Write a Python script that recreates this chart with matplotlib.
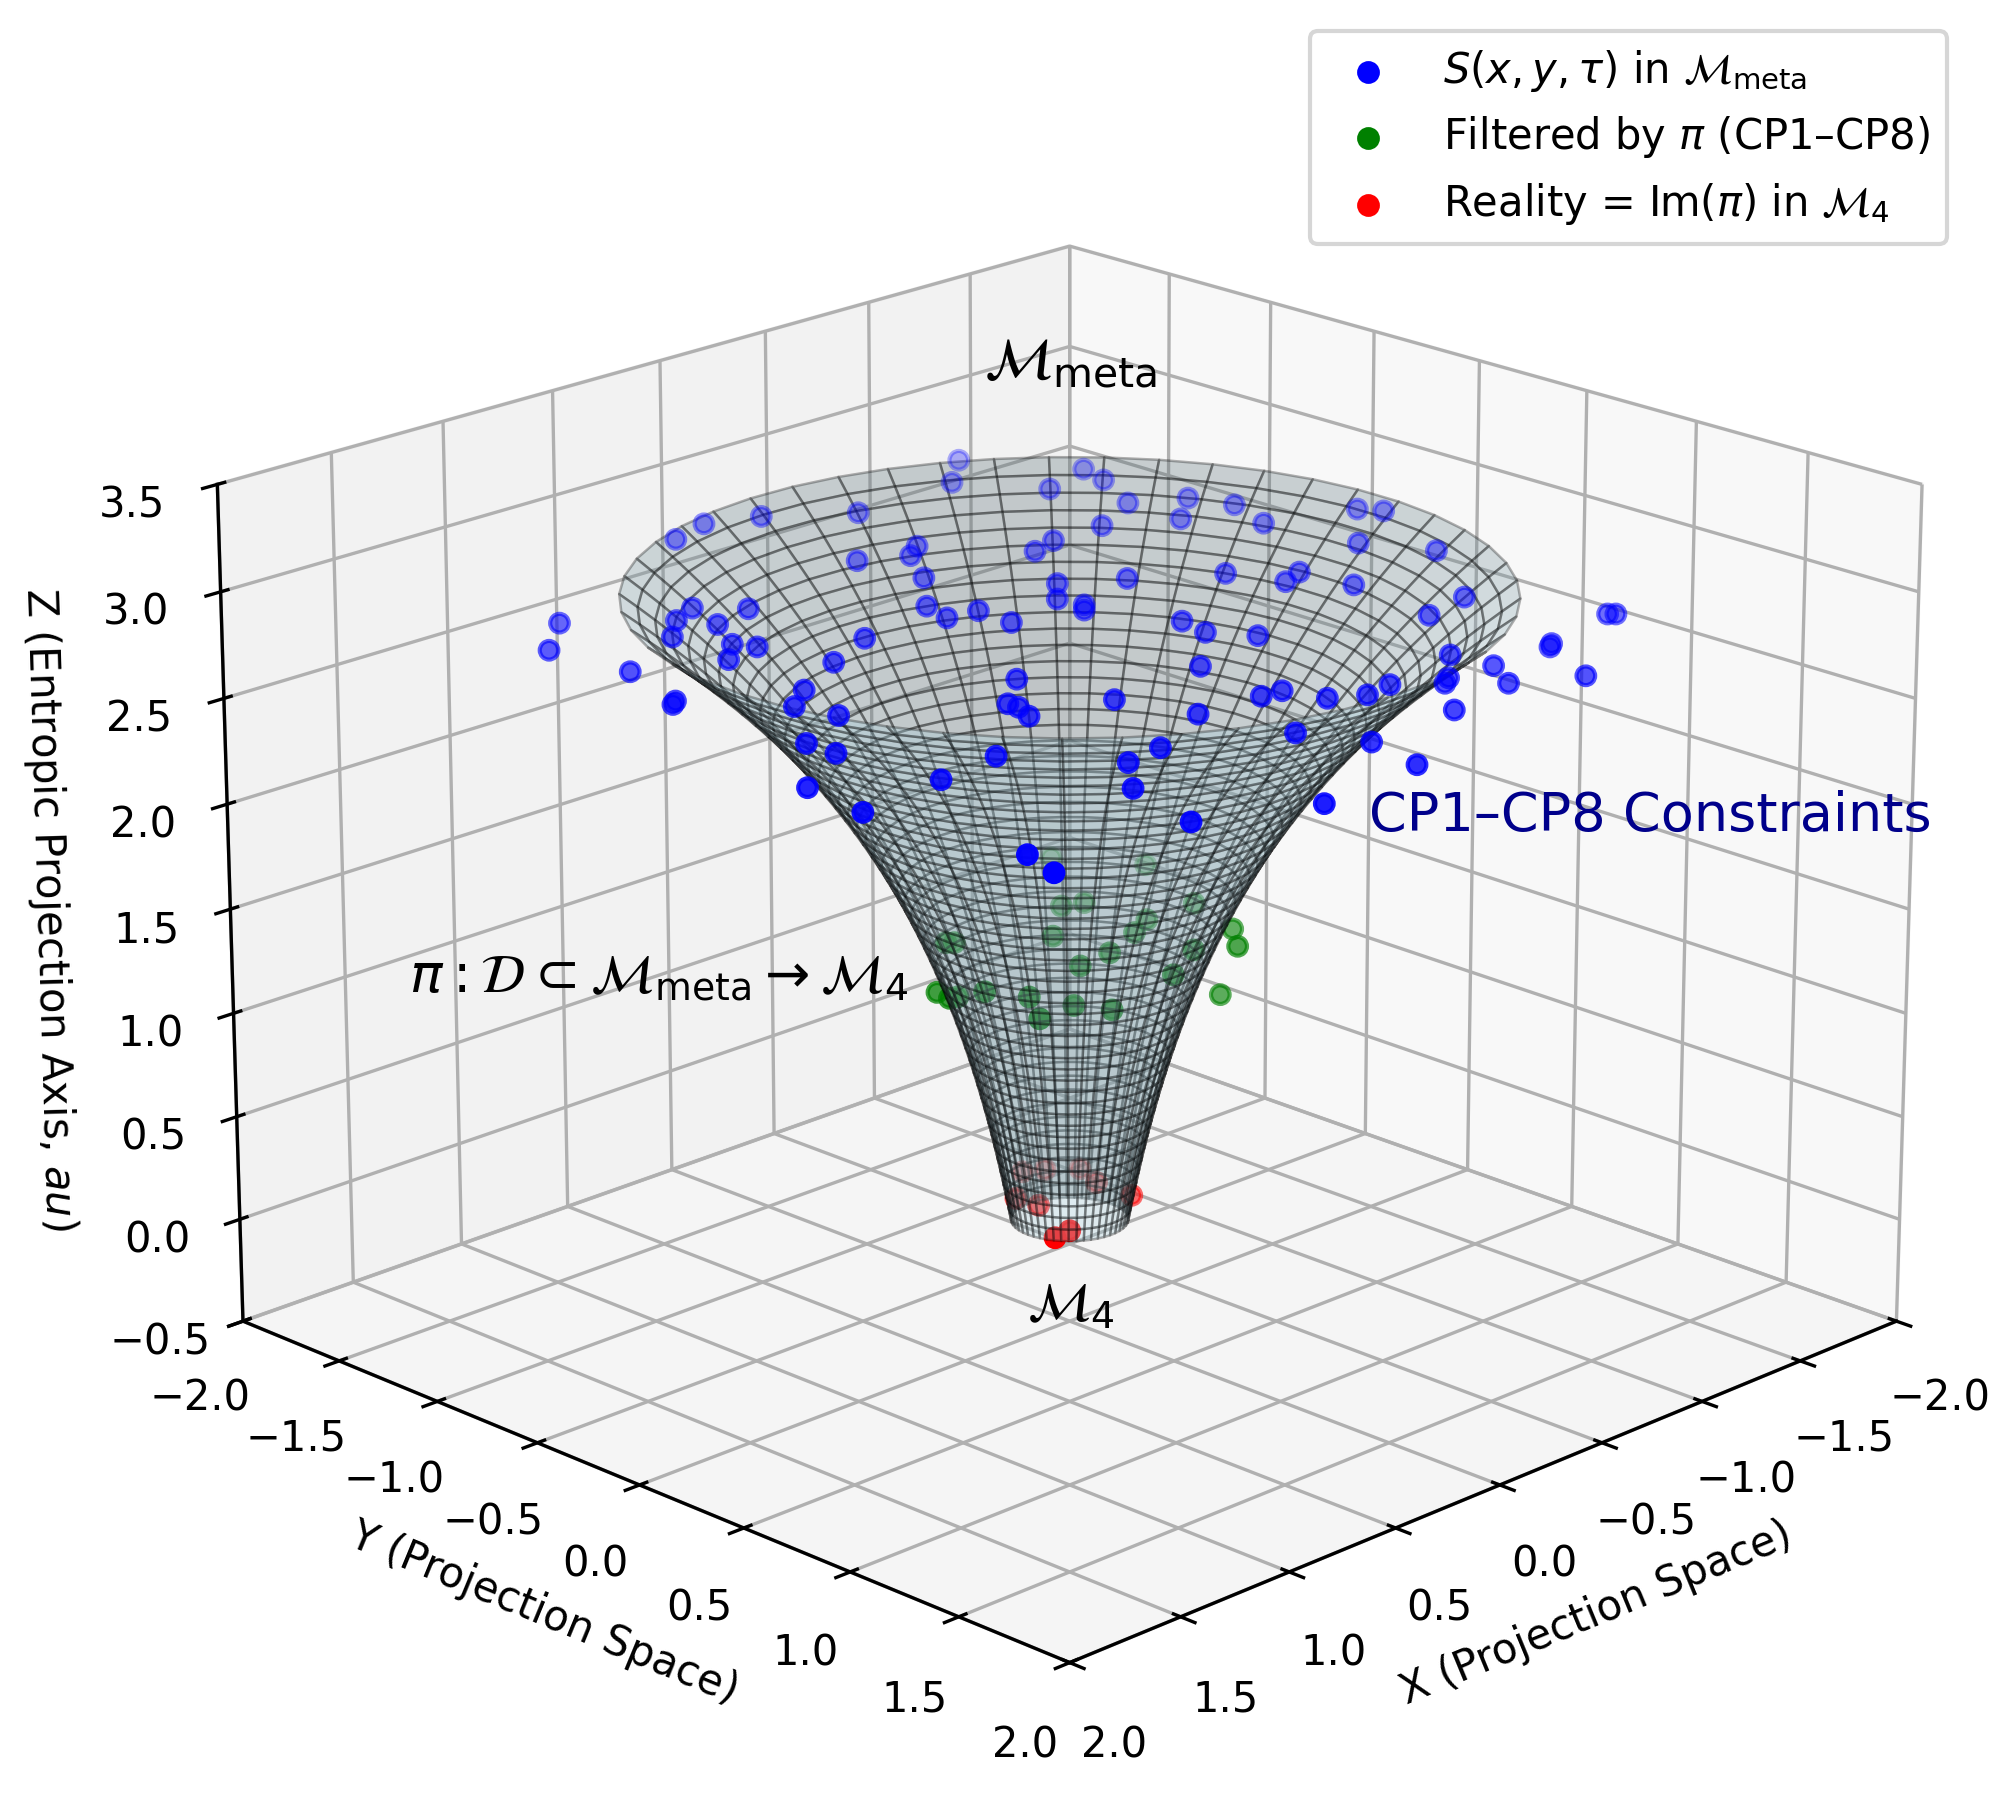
import numpy as np
import matplotlib
matplotlib.use("Agg")
from matplotlib import pyplot as plt

# funnel radius per ring, bottom to top
ring_radius = [0.2000, 0.2084, 0.2171, 0.2263, 0.2358, 0.2457, 0.2560, 0.2667, 0.2779, 0.2896,
               0.3017, 0.3144, 0.3276, 0.3413, 0.3557, 0.3706, 0.3861, 0.4023, 0.4192, 0.4368,
               0.4552, 0.4743, 0.4942, 0.5149, 0.5366, 0.5591, 0.5825, 0.6070, 0.6325, 0.6590,
               0.6867, 0.7155, 0.7456, 0.7769, 0.8095, 0.8435, 0.8789, 0.9158, 0.9542, 0.9943,
               1.0360, 1.0795, 1.1248, 1.1720, 1.2212, 1.2725, 1.3259, 1.3816, 1.4395, 1.5000]

blue_x = [0.82,1.04,1.00,1.13,1.10,-0.09,-0.28,-0.48,-0.75,-1.43,-1.23,-0.37,-0.63,-0.54,-0.40,-0.19,-0.15,-0.28,-0.27,0.39,
          0.52,0.65,0.45,0.26,0.56,0.52,0.68,0.20,0.45,0.72,0.86,0.82,0.14,0.34,0.34,0.38,1.09,1.09,0.74,1.03,
          1.39,1.43,-1.67,-1.63,-1.42,-1.50,-1.25,-1.69,-1.50,-1.75,-1.67,-2.02,-2.07,-1.74,-1.87,-0.88,-1.01,-0.89,-1.17,-1.25,
          -1.36,-1.39,-1.56,-1.33,-0.68,-0.56,-0.58,-0.54,-0.69,-0.66,-0.76,-1.07,-1.09,-0.99,-1.23,-1.77,-1.79,-1.40,-1.37,-0.39,
          -0.40,-0.31,-0.45,-0.57,-0.70,-0.89,-0.84,0.06,-0.03,-0.12,-0.23,-0.66,-0.17,0.32,0.30,0.48,0.65,0.75,1.34,1.40]
blue_y = [-1.63,-1.44,-1.08,-0.73,-0.75,-2.03,-2.09,-2.01,-1.80,-1.99,-1.82,-1.41,-1.38,-1.32,-1.11,-0.88,-0.74,-0.72,-0.55,-1.43,
          -1.37,-1.25,-1.24,-1.29,-1.05,-0.97,-0.94,-0.78,-0.67,-0.53,-0.43,-0.26,-0.11,0.05,0.10,0.19,-0.13,0.01,0.40,0.44,
          0.19,0.49,-1.60,-1.46,-1.52,-1.21,-1.09,-1.10,-0.95,-0.93,-0.71,-0.59,-0.51,-0.32,-0.07,-1.05,-1.09,-0.61,-0.41,-0.20,
          -0.24,-0.01,0.35,0.40,-0.74,-0.62,-0.51,-0.47,-0.15,-0.01,0.14,0.74,0.92,1.08,1.21,0.82,0.84,0.90,0.92,0.23,
          0.60,0.59,0.76,0.83,0.81,0.90,0.93,0.27,0.57,0.93,1.17,1.14,1.43,1.48,0.72,0.75,0.94,1.30,1.15,1.33]
blue_z = [2.6] * len(blue_x)

green_x = [-0.54,-0.72,-0.22,-0.30,-0.56,-0.33,-0.21,0.01,-0.47,-0.36,0.31,0.29,-0.01,-0.23,0.15,-0.01,0.47,0.48,0.45,0.55,0.48,0.29,0.23,0.60,-0.36]
green_y = [-0.63,-0.35,-0.26,-0.23,0.04,0.04,0.10,-0.07,0.31,0.44,-0.28,-0.26,0.18,0.36,0.20,0.48,-0.16,-0.09,-0.08,0.15,0.29,0.31,0.43,0.46,0.36]
green_z = [1.35,1.35,1.35,1.35,1.35,1.35,1.35,1.35,1.35,1.35,1.35,1.35,1.35,1.35,1.35,1.35,1.21,1.21,1.21,1.35,1.35,1.25,1.25,1.35,1.09]

red_x = [-0.13,-0.20,-0.29,-0.24,0.06,0.05,-0.24,0.14,0.22]
red_y = [-0.36,-0.32,-0.24,-0.11,-0.20,-0.10,0.06,0.14,0.15]
red_z = [0.05] * len(red_x)

fig = plt.figure(figsize=(2015 / 300, 1812 / 300), dpi=300)
ax = fig.add_axes([0.0095, -0.0245, 1.018, 1.018], projection='3d')
ax.computed_zorder = False

theta = np.linspace(0, 2 * np.pi, 50)
level = np.linspace(0, 3, len(ring_radius))
L, T = np.meshgrid(level, theta)
R = np.tile(ring_radius, (len(theta), 1))

ax.scatter(green_x, green_y, green_z, c='green', s=20, zorder=1, label=r'Filtered by $\pi$ (CP1–CP8)')
ax.scatter(red_x, red_y, red_z, c='red', s=20, zorder=1, label=r'Reality = Im($\pi$) in $\mathcal{M}_4$')
ax.plot_surface(R * np.cos(T), R * np.sin(T), L, color='lightblue', alpha=0.3,
                edgecolor='k', linewidth=0.6, rstride=1, cstride=1, zorder=2)
ax.scatter(blue_x, blue_y, blue_z, c='blue', s=20, zorder=3,
           label=r'$S(x, y, \tau)$ in $\mathcal{M}_{\mathrm{meta}}$')

ax.set_xlim(-2, 2)
ax.set_ylim(-2, 2)
ax.set_zlim(-0.5, 3.5)
ax.set_xlabel('X (Projection Space)')
ax.set_ylabel('Y (Projection Space)')
ax.set_zlabel('Z (Entropic Projection Axis, $au$)')
ax.view_init(elev=20, azim=45)

W, H = 1568.0, 1410.0
ax.text2D(833 / W, 1 - 281 / H, r'$\mathcal{M}_{\mathrm{meta}}$', transform=fig.transFigure,
          fontsize=14, ha='center', va='center')
ax.text2D(833 / W, 1 - 1016 / H, r'$\mathcal{M}_4$', transform=fig.transFigure,
          fontsize=13, ha='center', va='center')
ax.text2D(318 / W, 1 - 760 / H, r'$\pi: \mathcal{D} \subset \mathcal{M}_{\mathrm{meta}} \to \mathcal{M}_4$',
          transform=fig.transFigure, fontsize=13, ha='left', va='center')
ax.text2D(1065 / W, 1 - 635 / H, 'CP1–CP8 Constraints', transform=fig.transFigure,
          fontsize=13, color='darkblue', ha='left', va='center')

handles, labels = ax.get_legend_handles_labels()
order = [2, 0, 1]
ax.legend([handles[i] for i in order], [labels[i] for i in order], loc='upper right',
          bbox_to_anchor=(1515 / W, 1 - 24 / H), bbox_transform=fig.transFigure, borderaxespad=0)

fig.savefig('out.png', dpi=300)
